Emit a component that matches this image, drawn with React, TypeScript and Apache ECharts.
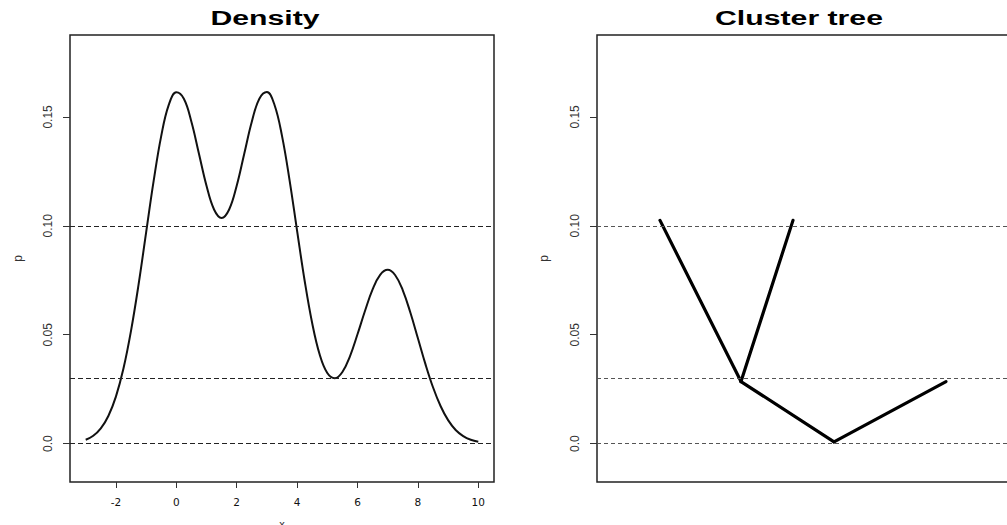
import React, { useEffect, useRef } from "react";
import * as echarts from "echarts";

// ---- Data ----
const densityX: number[] = [
  -3, -2.75, -2.5, -2.25, -2, -1.75, -1.5, -1.25, -1, -0.75, -0.5, -0.25,
  0, 0.25, 0.5, 0.75, 1, 1.25, 1.5, 1.75, 2, 2.25, 2.5, 2.75,
  3, 3.25, 3.5, 3.75, 4, 4.25, 4.5, 4.75, 5, 5.25, 5.5, 5.75,
  6, 6.25, 6.5, 6.75, 7, 7.25, 7.5, 7.75, 8, 8.25, 8.5, 8.75,
  9, 9.25, 9.5, 9.75, 10,
];
const densityY: number[] = [
  0.0018, 0.0036, 0.007, 0.0127, 0.0216, 0.0345, 0.0518, 0.073, 0.0969, 0.1206, 0.1412, 0.1555,
  0.1613, 0.1583, 0.1478, 0.1331, 0.1184, 0.1075, 0.1036, 0.1075, 0.1184, 0.1331, 0.1478, 0.1583,
  0.1614, 0.1556, 0.1413, 0.121, 0.0977, 0.0748, 0.0553, 0.0408, 0.0324, 0.03, 0.0329, 0.0401,
  0.0502, 0.061, 0.0708, 0.0775, 0.0798, 0.0773, 0.0704, 0.0602, 0.0484, 0.0365, 0.0259, 0.0173,
  0.0108, 0.0063, 0.0035, 0.0018, 0.0009,
];
const densityLevels: number[] = [0.1033, 0.0304, 0];
const treeLevels: number[] = [0.1025, 0.0297, 0.0004];

// cluster tree nodes: [x, level]
const treeNodeNames: string[] = ["leafA", "leafB", "split", "root", "leafC"];
const treeNodeX: number[] = [0.63, 1.96, 1.44, 2.37, 3.49];
const treeNodeY: number[] = [0.1025, 0.1025, 0.0285, 0.0008, 0.0285];
const treeEdges: [string, string][] = [
  ["leafA", "split"],
  ["leafB", "split"],
  ["split", "root"],
  ["root", "leafC"],
];

const xTicks: number[] = [-2, 0, 2, 4, 6, 8, 10];
const yTicks: number[] = [0, 0.05, 0.1, 0.15];
const yTickLabels: string[] = ["0.0", "0.05", "0.10", "0.15"];
const titles: string[] = ["Density", "Cluster tree"];

const FONT = '"Liberation Sans", Arial, Helvetica, sans-serif';

function yAxisFor(gridIndex: number, nameGap: number): any {
  return {
    type: "value",
    gridIndex,
    min: -0.0176,
    max: 0.1876,
    axisLine: { show: false, onZero: false },
    splitLine: { show: false },
    axisTick: {
      show: true,
      customValues: yTicks,
      length: 7,
      lineStyle: { color: "#333", width: 1 },
    },
    axisLabel: {
      show: true,
      customValues: yTicks,
      rotate: 90,
      margin: 16,
      fontSize: 12,
      fontFamily: FONT,
      color: "#333",
      formatter: (v: number) => {
        const i = yTicks.findIndex((t) => Math.abs(t - v) < 1e-9);
        return i >= 0 ? yTickLabels[i] : "";
      },
    },
    name: "p",
    nameLocation: "middle",
    nameGap,
    nameTextStyle: { fontSize: 12, fontFamily: FONT, color: "#333" },
  };
}

export default function App() {
  const ref = useRef<HTMLDivElement>(null);

  useEffect(() => {
    if (!ref.current) return;
    const chart = echarts.init(ref.current, undefined, { renderer: "svg" });

    const nodeIndex = (n: string) => treeNodeNames.indexOf(n);
    const edgeSeries = treeEdges.map(([a, b]) => {
      const ia = nodeIndex(a);
      const ib = nodeIndex(b);
      return {
        type: "line",
        xAxisIndex: 1,
        yAxisIndex: 1,
        data: [
          [treeNodeX[ia], treeNodeY[ia]],
          [treeNodeX[ib], treeNodeY[ib]],
        ],
        symbol: "none",
        lineStyle: { color: "#000", width: 3.2, cap: "round", join: "round" },
        silent: true,
        z: 3,
      };
    });

    const option: any = {
      animation: false,
      backgroundColor: "#fff",
      grid: [
        {
          left: 70,
          top: 35,
          width: 424,
          height: 447,
          show: true,
          borderColor: "#222",
          borderWidth: 1.5,
          backgroundColor: "transparent",
          containLabel: false,
          outerBoundsMode: "none",
        },
        {
          left: 597,
          top: 35,
          width: 440,
          height: 447,
          show: true,
          borderColor: "#222",
          borderWidth: 1.5,
          backgroundColor: "transparent",
          containLabel: false,
          outerBoundsMode: "none",
        },
      ],
      xAxis: [
        {
          type: "value",
          gridIndex: 0,
          min: -3.52,
          max: 10.52,
          axisLine: { show: false, onZero: false },
          splitLine: { show: false },
          axisTick: {
            show: true,
            customValues: xTicks,
            length: 6,
            lineStyle: { color: "#333", width: 1 },
          },
          axisLabel: {
            show: true,
            customValues: xTicks,
            margin: 14,
            fontSize: 10.5,
            fontFamily: '"DejaVu Sans", sans-serif',
            color: "#111",
          },
          name: "x",
          nameLocation: "middle",
          nameGap: 36,
          nameTextStyle: { fontSize: 11, fontFamily: FONT, color: "#333" },
        },
        {
          type: "value",
          gridIndex: 1,
          min: 0,
          max: 4.4,
          show: false,
          axisLine: { show: false, onZero: false },
          splitLine: { show: false },
        },
      ],
      yAxis: [yAxisFor(0, 46), yAxisFor(1, 47)],
      series: [
        {
          type: "line",
          xAxisIndex: 0,
          yAxisIndex: 0,
          data: densityX.map((x, i) => [x, densityY[i]]),
          symbol: "none",
          smooth: 0.4,
          lineStyle: { color: "#111", width: 2 },
          silent: true,
          z: 3,
          markLine: {
            silent: true,
            symbol: "none",
            label: { show: false },
            lineStyle: { color: "#222", width: 1, type: [5, 3] },
            data: densityLevels.map((v) => ({ yAxis: v })),
          },
        },
        {
          type: "line",
          xAxisIndex: 1,
          yAxisIndex: 1,
          data: [],
          symbol: "none",
          silent: true,
          markLine: {
            silent: true,
            symbol: "none",
            label: { show: false },
            lineStyle: { color: "#555", width: 1, type: [4, 3] },
            data: treeLevels.map((v) => ({ yAxis: v })),
          },
        },
        ...edgeSeries,
      ],
      graphic: [
        {
          type: "text",
          x: 265,
          y: 17.5,
          scaleX: 1.44,
          style: {
            text: titles[0],
            font: `bold 21px ${FONT}`,
            fill: "#000",
            align: "center",
            verticalAlign: "middle",
          },
        },
        {
          type: "text",
          x: 799,
          y: 17.5,
          scaleX: 1.44,
          style: {
            text: titles[1],
            font: `bold 21px ${FONT}`,
            fill: "#000",
            align: "center",
            verticalAlign: "middle",
          },
        },
      ],
    };

    chart.setOption(option);
    return () => chart.dispose();
  }, []);

  return (
    <div
      ref={ref}
      style={{
        position: "absolute",
        left: 0,
        top: 0,
        width: 1007,
        height: 525,
        background: "#fff",
      }}
    />
  );
}
